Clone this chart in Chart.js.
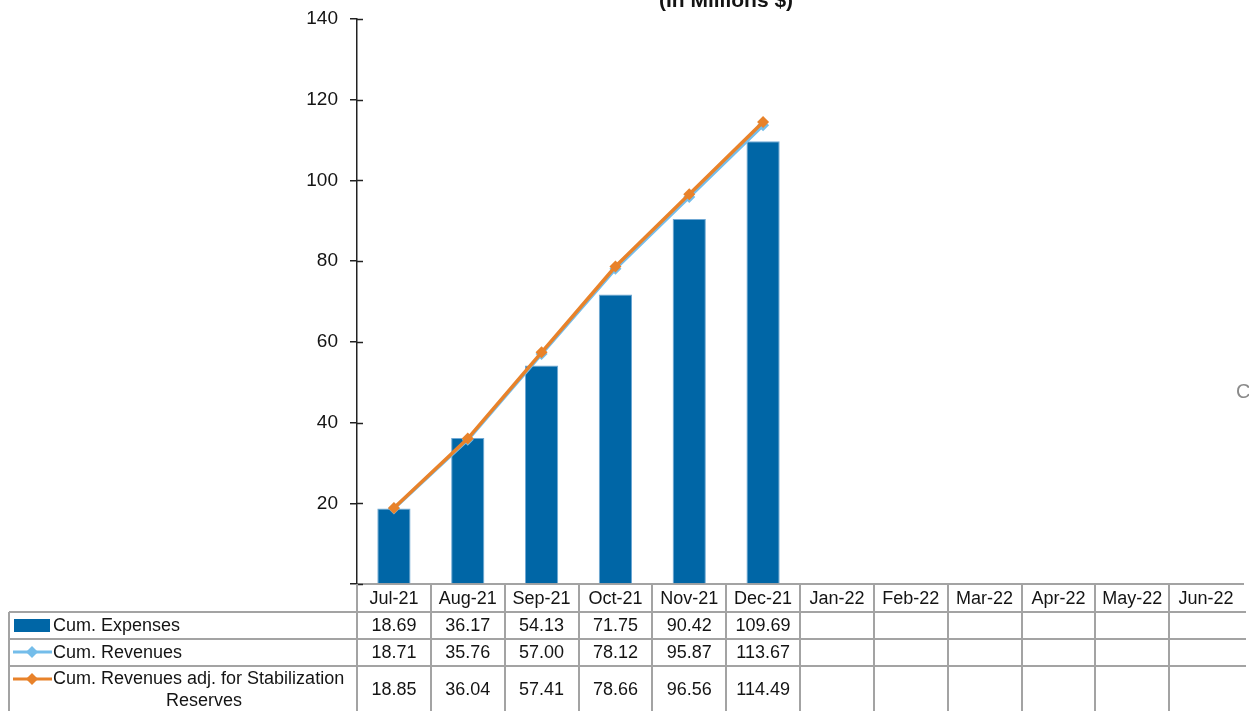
<!DOCTYPE html>
<html>
<head>
<meta charset="utf-8">
<script src="https://cdn.jsdelivr.net/npm/chart.js@4.4.1/dist/chart.umd.min.js"></script>
<style>
  html, body { margin: 0; padding: 0; background: #fff; }
  canvas { display: block; }
</style>
</head>
<body>
<canvas id="cumChart" width="1249" height="711"></canvas>
<script>
// values (in millions $)
const months = ['Jul-21', 'Aug-21', 'Sep-21', 'Oct-21', 'Nov-21', 'Dec-21',
                'Jan-22', 'Feb-22', 'Mar-22', 'Apr-22', 'May-22', 'Jun-22'];
const expenses = [18.69, 36.17, 54.13, 71.75, 90.42, 109.69, null, null, null, null, null, null];
const revenues = [18.71, 35.76, 57.00, 78.12, 95.87, 113.67, null, null, null, null, null, null];
const revenuesAdj = [18.85, 36.04, 57.41, 78.66, 96.56, 114.49, null, null, null, null, null, null];
const seriesNames = ['Cum. Expenses', 'Cum. Revenues', 'Cum. Revenues adj. for Stabilization', 'Reserves'];
const yTickValues = [0, 20, 40, 60, 80, 100, 120, 140];
const titleText = '(In Millions $)';

const FONT = "'Liberation Sans', Arial, sans-serif";
const BAR_BLUE = '#0066a6';
const LIGHT_BLUE = '#74bdea';
const ORANGE = '#e8822a';
const GRID_GRAY = '#a3a3a3';
const TEXT = '#141414';

// draws the title, the data table under the axis and the crossing tick marks
const tablePlugin = {
    id: 'dataTable',
    afterDraw(chart) {
        const ctx = chart.ctx;
        const xs = chart.scales.x;
        const ys = chart.scales.y;
        const area = chart.chartArea;
        const colW = (area.right - area.left) / months.length;
        const rowLines = [612, 639, 666];
        const bottom = 711;
        const tableRight = 1246;

        ctx.save();

        // title (top is cut off in the original)
        ctx.font = 'bold 21px ' + FONT;
        ctx.fillStyle = TEXT;
        ctx.textAlign = 'center';
        ctx.textBaseline = 'alphabetic';
        ctx.fillText(titleText, 726, 7);

        // inner half of the cross tick marks
        ctx.strokeStyle = '#222';
        ctx.lineWidth = 1.5;
        yTickValues.forEach(v => {
            const y = Math.round(ys.getPixelForValue(v)) + 0.5;
            ctx.beginPath();
            ctx.moveTo(area.left, y);
            ctx.lineTo(area.left + 6, y);
            ctx.stroke();
        });

        // table grid (right border is cut off in the original)
        ctx.strokeStyle = GRID_GRAY;
        ctx.lineWidth = 2;
        ctx.beginPath();
        for (let i = 0; i < months.length; i++) {
            const x = Math.round(area.left + i * colW);
            ctx.moveTo(x, area.bottom);
            ctx.lineTo(x, bottom);
        }
        ctx.moveTo(9, rowLines[0]);
        ctx.lineTo(9, bottom);
        rowLines.forEach(y => {
            ctx.moveTo(9, y);
            ctx.lineTo(tableRight, y);
        });
        ctx.stroke();

        // header and values
        ctx.font = '18px ' + FONT;
        ctx.fillStyle = TEXT;
        ctx.textAlign = 'center';
        ctx.textBaseline = 'middle';
        const rowsY = [626, 653, 690];
        months.forEach((m, i) => {
            const cx = xs.getPixelForValue(i);
            ctx.fillText(m, cx, 599);
            [expenses, revenues, revenuesAdj].forEach((arr, r) => {
                if (arr[i] !== null) ctx.fillText(arr[i].toFixed(2), cx, rowsY[r]);
            });
        });

        // legend keys
        ctx.fillStyle = BAR_BLUE;
        ctx.fillRect(14, 619, 36, 13);
        const drawLineKey = (y, color, w) => {
            ctx.strokeStyle = color;
            ctx.lineWidth = w;
            ctx.beginPath();
            ctx.moveTo(13, y);
            ctx.lineTo(52, y);
            ctx.stroke();
            ctx.fillStyle = color;
            ctx.beginPath();
            ctx.moveTo(32, y - 6);
            ctx.lineTo(38, y);
            ctx.lineTo(32, y + 6);
            ctx.lineTo(26, y);
            ctx.closePath();
            ctx.fill();
        };
        drawLineKey(652, LIGHT_BLUE, 3);
        drawLineKey(679, ORANGE, 3);

        // legend names
        ctx.fillStyle = TEXT;
        ctx.textAlign = 'left';
        ctx.fillText(seriesNames[0], 53, 626);
        ctx.fillText(seriesNames[1], 53, 653);
        ctx.fillText(seriesNames[2], 53, 679);
        ctx.textAlign = 'center';
        ctx.fillText(seriesNames[3], 204, 701);

        // stray glyph at the right edge of the original
        ctx.fillStyle = '#8a8a8a';
        ctx.font = '20px ' + FONT;
        ctx.textAlign = 'left';
        ctx.fillText('C', 1236, 392);

        ctx.restore();
    }
};

const ctx = document.getElementById('cumChart').getContext('2d');
new Chart(ctx, {
    type: 'bar',
    data: {
        labels: months,
        datasets: [
            {
                type: 'line',
                label: 'Cum. Revenues adj. for Stabilization Reserves',
                data: revenuesAdj,
                borderColor: ORANGE,
                backgroundColor: ORANGE,
                borderWidth: 3.5,
                pointStyle: 'rectRot',
                pointRadius: 6,
                pointBorderWidth: 0,
                order: 0
            },
            {
                type: 'line',
                label: 'Cum. Revenues',
                data: revenues,
                borderColor: LIGHT_BLUE,
                backgroundColor: LIGHT_BLUE,
                borderWidth: 3.5,
                pointStyle: 'rectRot',
                pointRadius: 6,
                pointBorderWidth: 0,
                order: 1
            },
            {
                type: 'bar',
                label: 'Cum. Expenses',
                data: expenses,
                backgroundColor: BAR_BLUE,
                borderColor: '#6fa8d4',
                borderWidth: 1,
                categoryPercentage: 1,
                barPercentage: 0.45,
                order: 2
            }
        ]
    },
    options: {
        responsive: false,
        animation: false,
        layout: { padding: { top: 19, right: 1, left: 0, bottom: 0 } },
        plugins: {
            legend: { display: false },
            tooltip: { enabled: false }
        },
        scales: {
            x: {
                grid: { display: false },
                border: { display: true, color: GRID_GRAY, width: 2 },
                ticks: { display: false },
                afterFit: s => { s.height = 711 - 584; s.paddingLeft = 0; s.paddingRight = 0; }
            },
            y: {
                min: 0,
                max: 140,
                afterBuildTicks: s => { s.ticks = yTickValues.map(v => ({ value: v })); },
                ticks: {
                    color: TEXT,
                    font: { family: FONT, size: 19 },
                    padding: 12,
                    callback: v => (v === 0 ? '' : v)
                },
                grid: { drawOnChartArea: false, tickLength: 7, color: '#222', lineWidth: 1.5 },
                border: { color: '#222', width: 1.5 },
                afterFit: s => { s.width = 357; s.paddingTop = 0; s.paddingBottom = 0; }
            }
        }
    },
    plugins: [tablePlugin]
});
</script>
</body>
</html>
